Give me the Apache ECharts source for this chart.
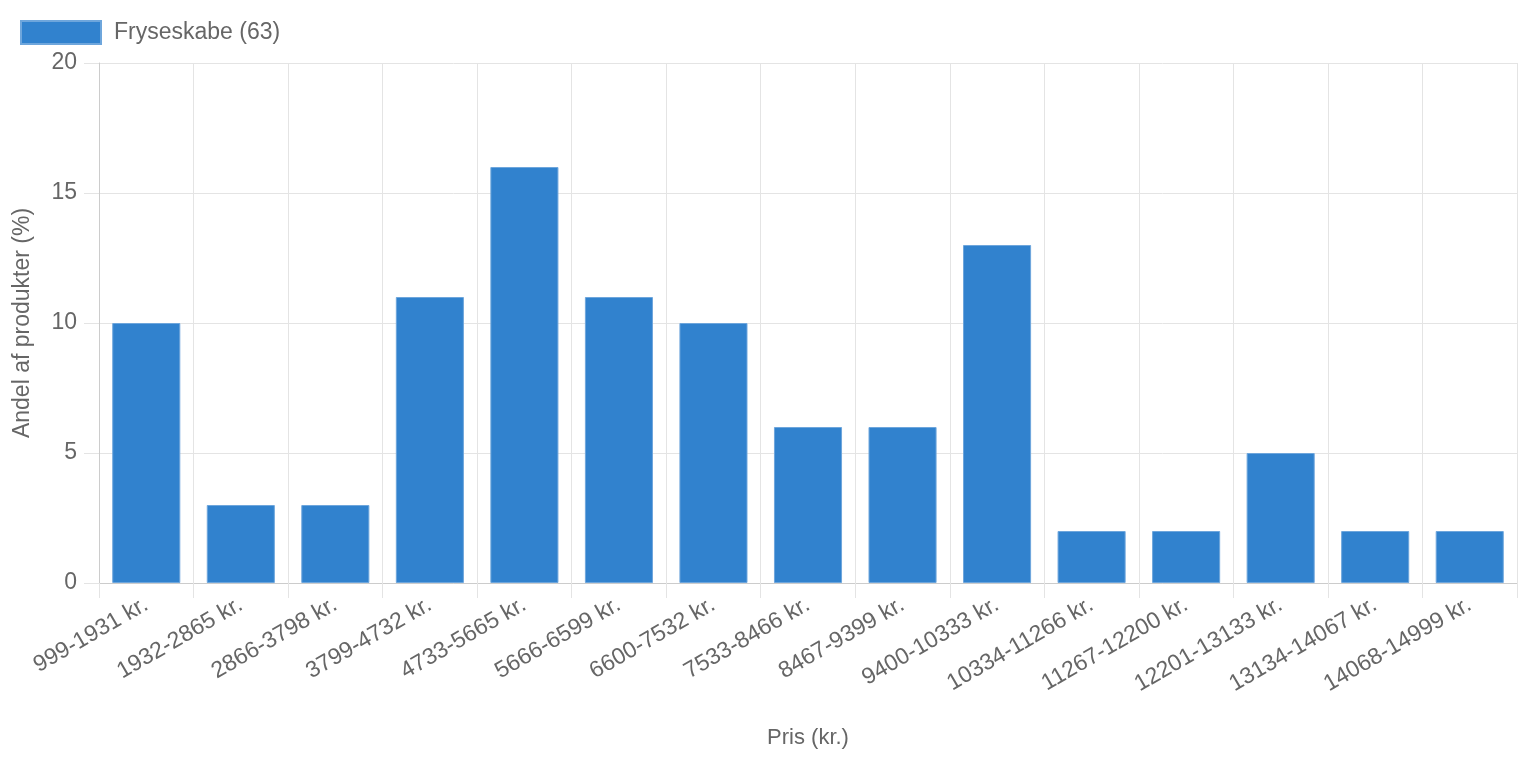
<!DOCTYPE html>
<html>
<head>
<meta charset="utf-8">
<script src="https://cdn.jsdelivr.net/npm/echarts@6/dist/echarts.min.js"></script>
<style>
html,body{margin:0;padding:0;background:#fff;overflow:hidden;}
#chart{width:1518px;height:758px;}
</style>
</head>
<body>
<div id="chart"></div>
<script>
const categories = ["999-1931 kr.","1932-2865 kr.","2866-3798 kr.","3799-4732 kr.","4733-5665 kr.","5666-6599 kr.","6600-7532 kr.","7533-8466 kr.","8467-9399 kr.","9400-10333 kr.","10334-11266 kr.","11267-12200 kr.","12201-13133 kr.","13134-14067 kr.","14068-14999 kr."];
const values = [10,3,3,11,16,11,10,6,6,13,2,2,5,2,2];
const seriesName = "Fryseskabe (63)";
const xAxisName = "Pris (kr.)";
const yAxisName = "Andel af produkter (%)";

const FONT = "'Liberation Sans', Arial, Helvetica, sans-serif";
const chart = echarts.init(document.getElementById('chart'));
chart.setOption({
  animation: false,
  textStyle: {fontFamily: FONT},
  legend: {
    left: 20, top: 20, padding: 0, itemWidth: 80, itemHeight: 23, icon: 'rect',
    textStyle: {fontSize: 23, color: '#666', fontFamily: FONT, padding: [0,0,0,8]},
    data: [seriesName]
  },
  grid: {left: 99, right: 1, top: 63, bottom: 175, containLabel: false, outerBoundsMode: 'none'},
  xAxis: {
    type: 'category', data: categories,
    name: xAxisName, nameLocation: 'middle', nameGap: 144,
    nameTextStyle: {fontSize: 22, color: '#666', fontFamily: FONT},
    axisLine: {show: true, lineStyle: {color: '#cccccc'}},
    axisTick: {show: true, length: 15, alignWithLabel: false, lineStyle: {color: '#e4e4e4'}},
    axisLabel: {rotate: 30, fontSize: 23, color: '#666', margin: 20, interval: 0, fontFamily: FONT},
    splitLine: {show: true, lineStyle: {color: '#e4e4e4'}}
  },
  yAxis: {
    type: 'value', min: 0, max: 20, interval: 5,
    name: yAxisName, nameLocation: 'middle', nameGap: 65,
    nameTextStyle: {fontSize: 23, color: '#666', fontFamily: FONT},
    axisLine: {show: true, lineStyle: {color: '#cccccc'}},
    axisTick: {show: true, length: 15, lineStyle: {color: '#e4e4e4'}},
    axisLabel: {fontSize: 23, color: '#666', margin: 22, fontFamily: FONT},
    splitLine: {show: true, lineStyle: {color: '#e4e4e4'}}
  },
  series: [{
    name: seriesName, type: 'bar', data: values,
    barWidth: '72%',
    itemStyle: {color: '#3182ce', borderColor: '#6ea6dc', borderWidth: 1}
  }]
});
</script>
</body>
</html>
